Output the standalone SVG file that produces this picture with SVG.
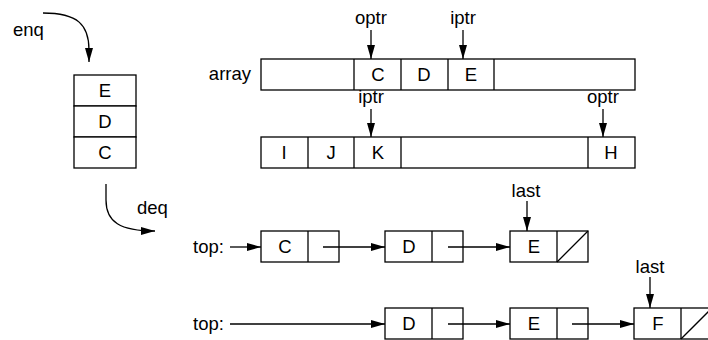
<svg xmlns="http://www.w3.org/2000/svg" width="708" height="340" viewBox="0 0 708 340">
  <style>
    text { font-family: "Liberation Sans", Arial, sans-serif; font-size: 18.5px; fill: #000; }
    .mid { text-anchor: middle; }
    .end { text-anchor: end; }
    .box { fill: #fff; stroke: #000; stroke-width: 1.3; }
    .ln { fill: none; stroke: #000; stroke-width: 1.3; }
  </style>
  <defs>
    <marker id="ah" viewBox="0 0 14 8" refX="14" refY="4" markerWidth="14" markerHeight="8" markerUnits="userSpaceOnUse" orient="auto">
      <path d="M0,0 L14,4 L0,8 Z" fill="#000"/>
    </marker>
  </defs>

  <!-- queue drawn as a stack of cells -->
  <g id="stack">
    <rect class="box" x="74" y="75" width="62" height="31"/>
    <rect class="box" x="74" y="106" width="62" height="31"/>
    <rect class="box" x="74" y="137" width="62" height="31"/>
    <text class="mid" x="105" y="97">E</text>
    <text class="mid" x="105" y="128">D</text>
    <text class="mid" x="105" y="159">C</text>
  </g>
  <g id="enq-label"><text x="13" y="36">enq</text></g>
  <g id="deq-label"><text x="137" y="214">deq</text></g>

  <!-- circular buffer, first state -->
  <g id="array1">
    <text class="end" x="251" y="80">array</text>
    <rect class="box" x="261" y="59" width="374" height="31"/>
    <line class="ln" x1="354" y1="59" x2="354" y2="90"/>
    <line class="ln" x1="401" y1="59" x2="401" y2="90"/>
    <line class="ln" x1="448" y1="59" x2="448" y2="90"/>
    <line class="ln" x1="494" y1="59" x2="494" y2="90"/>
    <text class="mid" x="378" y="81">C</text>
    <text class="mid" x="424" y="81">D</text>
    <text class="mid" x="471" y="81">E</text>
    <text class="mid" x="371" y="24">optr</text>
    <text class="mid" x="463" y="24">iptr</text>
  </g>

  <!-- circular buffer, wrapped state -->
  <g id="array2">
    <rect class="box" x="261" y="137" width="374" height="31"/>
    <line class="ln" x1="308" y1="137" x2="308" y2="168"/>
    <line class="ln" x1="354" y1="137" x2="354" y2="168"/>
    <line class="ln" x1="401" y1="137" x2="401" y2="168"/>
    <line class="ln" x1="588" y1="137" x2="588" y2="168"/>
    <text class="mid" x="284" y="159">I</text>
    <text class="mid" x="331" y="159">J</text>
    <text class="mid" x="378" y="159">K</text>
    <text class="mid" x="611" y="159">H</text>
    <text class="mid" x="371" y="103">iptr</text>
    <text class="mid" x="603" y="103">optr</text>
  </g>

  <!-- linked list, first state -->
  <g id="list1-top"><text x="193" y="253">top:</text></g>
  <g id="list1-c">
    <rect class="box" x="261" y="231" width="78" height="31"/>
    <line class="ln" x1="308" y1="231" x2="308" y2="262"/>
    <text class="mid" x="285" y="253">C</text>
  </g>
  <g id="list1-d">
    <rect class="box" x="385" y="231" width="78" height="31"/>
    <line class="ln" x1="432" y1="231" x2="432" y2="262"/>
    <text class="mid" x="409" y="253">D</text>
  </g>
  <g id="list1-e">
    <rect class="box" x="510" y="231" width="78" height="31"/>
    <line class="ln" x1="557" y1="231" x2="557" y2="262"/>
    <line class="ln" x1="557" y1="262" x2="588" y2="231"/>
    <text class="mid" x="534" y="253">E</text>
  </g>
  <g id="list1-last"><text class="mid" x="526" y="197">last</text></g>

  <!-- linked list, second state -->
  <g id="list2-top"><text x="193" y="330">top:</text></g>
  <g id="list2-d">
    <rect class="box" x="385" y="308" width="78" height="31"/>
    <line class="ln" x1="432" y1="308" x2="432" y2="339"/>
    <text class="mid" x="409" y="330">D</text>
  </g>
  <g id="list2-e">
    <rect class="box" x="510" y="308" width="78" height="31"/>
    <line class="ln" x1="557" y1="308" x2="557" y2="339"/>
    <text class="mid" x="534" y="330">E</text>
  </g>
  <g id="list2-f">
    <rect class="box" x="634" y="308" width="78" height="31"/>
    <line class="ln" x1="681" y1="308" x2="681" y2="339"/>
    <line class="ln" x1="681" y1="339" x2="712" y2="308"/>
    <text class="mid" x="658" y="330">F</text>
  </g>
  <g id="list2-last"><text class="mid" x="650" y="273">last</text></g>

  <g id="connectors">
    <path class="ln" d="M43,13 C78,13 89,25 89,50 L89,62" marker-end="url(#ah)"/>
    <path class="ln" d="M106,184 L106,200 C106,222 120,231 155,231" marker-end="url(#ah)"/>
    <line class="ln" x1="371" y1="30" x2="371" y2="59" marker-end="url(#ah)"/>
    <line class="ln" x1="463" y1="30" x2="463" y2="59" marker-end="url(#ah)"/>
    <line class="ln" x1="371" y1="109" x2="371" y2="137" marker-end="url(#ah)"/>
    <line class="ln" x1="603" y1="109" x2="603" y2="137" marker-end="url(#ah)"/>
    <line class="ln" x1="230" y1="247" x2="261" y2="247" marker-end="url(#ah)"/>
    <line class="ln" x1="323" y1="247" x2="385" y2="247" marker-end="url(#ah)"/>
    <line class="ln" x1="448" y1="247" x2="510" y2="247" marker-end="url(#ah)"/>
    <line class="ln" x1="527" y1="201" x2="527" y2="231" marker-end="url(#ah)"/>
    <line class="ln" x1="230" y1="324" x2="385" y2="324" marker-end="url(#ah)"/>
    <line class="ln" x1="448" y1="324" x2="510" y2="324" marker-end="url(#ah)"/>
    <line class="ln" x1="572" y1="324" x2="634" y2="324" marker-end="url(#ah)"/>
    <line class="ln" x1="650" y1="277" x2="650" y2="308" marker-end="url(#ah)"/>
  </g>
</svg>
